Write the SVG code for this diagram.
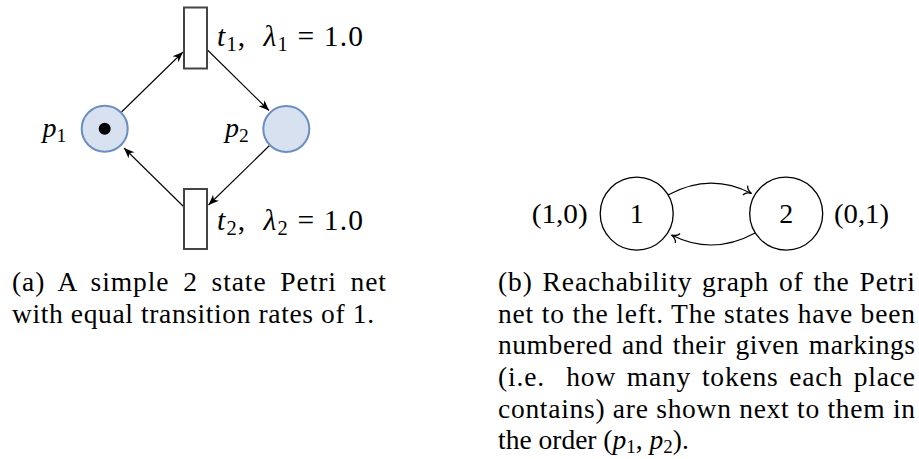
<svg xmlns="http://www.w3.org/2000/svg" width="919" height="459" viewBox="0 0 919 459">
<defs>
<style>
text{font-family:"Liberation Serif","Times New Roman",serif;fill:#000}
.lab{font-size:28px}
.tl{font-size:29.5px}
.cap{font-size:27.5px}
.it{font-style:italic}
.place{fill:#d7e1ef;stroke:#6c8ebf;stroke-width:2}
.trans{fill:#fff;stroke:#444;stroke-width:2}
.state{fill:none;stroke:#000;stroke-width:1.3}
.arc{fill:none;stroke:#000;stroke-width:1.1}
</style>
<marker id="st" markerUnits="userSpaceOnUse" markerWidth="14" markerHeight="14" viewBox="-10 -5 12 10" refX="0" refY="0" orient="auto">
<path d="M0,0 L-9,-3.6 L-6.5,0 L-9,3.6 Z" fill="#000"/>
</marker>
<marker id="to" markerUnits="userSpaceOnUse" markerWidth="14" markerHeight="14" viewBox="-10 -6 12 12" refX="0" refY="0" orient="auto">
<path d="M-6,-4.5 C-5,-1.8 -2,-0.4 0,0 C-2,0.4 -5,1.8 -6,4.5" fill="none" stroke="#000" stroke-width="1.1"/>
</marker>
</defs>
<rect width="919" height="459" fill="#fff"/>

<g id="connectors">
<line class="arc" x1="121.5" y1="112" x2="183" y2="52" marker-end="url(#st)"/>
<line class="arc" x1="207.5" y1="50" x2="269" y2="110.5" marker-end="url(#st)"/>
<line class="arc" x1="269.5" y1="145.5" x2="208.5" y2="205" marker-end="url(#st)"/>
<line class="arc" x1="184" y1="207" x2="124" y2="148" marker-end="url(#st)"/>
<path class="arc" d="M668,195 Q710,172 751.5,193.5" marker-end="url(#to)"/>
<path class="arc" d="M755,233 Q713,256 671.5,235" marker-end="url(#to)"/>
</g>

<g id="p1">
<circle class="place" cx="104.7" cy="128.8" r="23"/>
<circle cx="104.7" cy="128.8" r="6" fill="#000"/>
<text class="lab" x="42.5" y="137"><tspan class="it">p</tspan><tspan dy="5" font-size="19.5">1</tspan></text>
</g>
<g id="p2">
<circle class="place" cx="286.3" cy="129" r="23"/>
<text class="lab" x="225" y="137"><tspan class="it">p</tspan><tspan dy="5" font-size="19.5">2</tspan></text>
</g>
<g id="t1">
<rect class="trans" x="184" y="7.5" width="23" height="61"/>
<text class="tl" x="217" y="46" textLength="146" lengthAdjust="spacing"><tspan class="it">t</tspan><tspan dy="5" font-size="20.5">1</tspan><tspan dy="-5">,&#160; </tspan><tspan class="it">λ</tspan><tspan dy="5" font-size="20.5">1</tspan><tspan dy="-5">&#160;=&#160;1.0</tspan></text>
</g>
<g id="t2">
<rect class="trans" x="184" y="189" width="23" height="60"/>
<text class="tl" x="217" y="230" textLength="146" lengthAdjust="spacing"><tspan class="it">t</tspan><tspan dy="5" font-size="20.5">2</tspan><tspan dy="-5">,&#160; </tspan><tspan class="it">λ</tspan><tspan dy="5" font-size="20.5">2</tspan><tspan dy="-5">&#160;=&#160;1.0</tspan></text>
</g>

<g id="s1">
<circle class="state" cx="636.7" cy="213.6" r="36.5"/>
<text class="lab" x="636.7" y="223.3" text-anchor="middle">1</text>
<text class="lab" x="531.7" y="223.3" textLength="56" lengthAdjust="spacingAndGlyphs">(1,0)</text>
</g>
<g id="s2">
<circle class="state" cx="786.2" cy="213.6" r="36.5"/>
<text class="lab" x="786.2" y="223.3" text-anchor="middle">2</text>
<text class="lab" x="834" y="223.3" textLength="55" lengthAdjust="spacingAndGlyphs">(0,1)</text>
</g>

<g id="caption-a">
<text class="cap" x="12" y="291" word-spacing="6" textLength="374">(a) A simple 2 state Petri net</text>
<text class="cap" x="12" y="322.7" textLength="362">with equal transition rates of 1.</text>
</g>
<g id="caption-b">
<text class="cap" x="498" y="291" word-spacing="2" textLength="417">(b) Reachability graph of the Petri</text>
<text class="cap" x="498" y="322.7" textLength="417">net to the left. The states have been</text>
<text class="cap" x="498" y="354.3" word-spacing="2" textLength="417">numbered and their given markings</text>
<text class="cap" x="498" y="386" word-spacing="3" textLength="417">(i.e.&#160; how many tokens each place</text>
<text class="cap" x="498" y="417.7" textLength="417">contains) are shown next to them in</text>
<text class="cap" x="498" y="449.3">the order (<tspan class="it">p</tspan><tspan dy="4" font-size="19">1</tspan><tspan dy="-4">, </tspan><tspan class="it">p</tspan><tspan dy="4" font-size="19">2</tspan><tspan dy="-4">).</tspan></text>
</g>
</svg>
